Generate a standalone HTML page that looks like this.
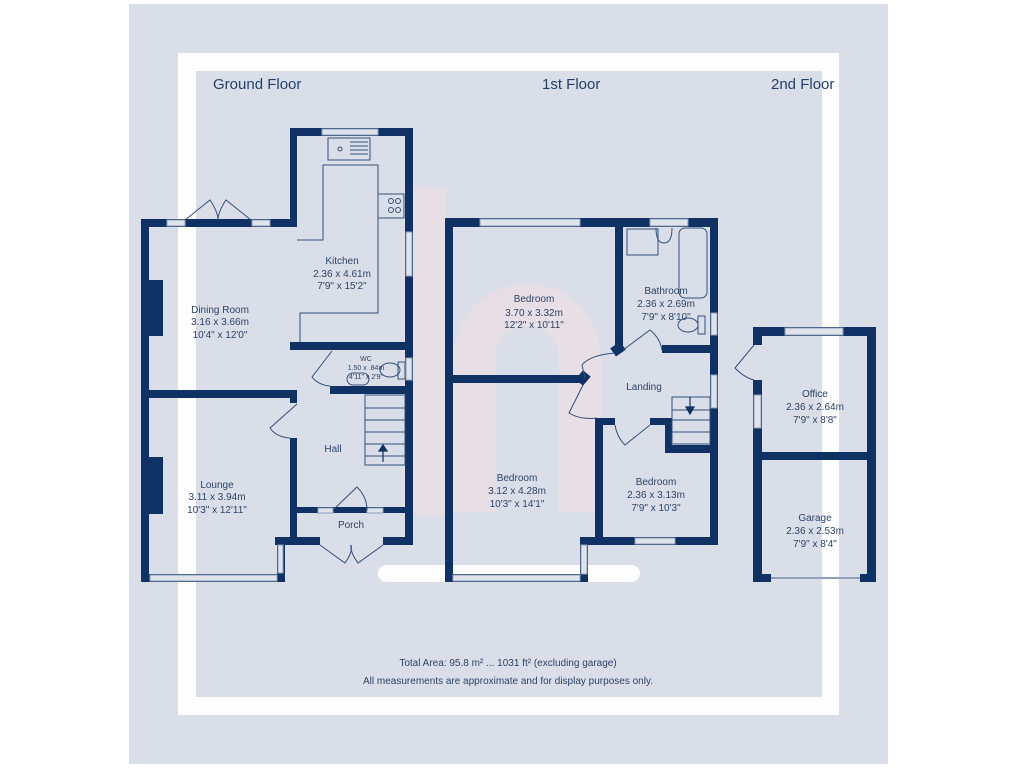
<!DOCTYPE html>
<html><head><meta charset="utf-8"><style>
html,body{margin:0;padding:0;background:#fff;}
body{width:1024px;height:768px;overflow:hidden;position:relative;font-family:"Liberation Sans",sans-serif;}
svg{position:absolute;left:0;top:0;}
</style></head><body>
<svg width="1024" height="768" viewBox="0 0 1024 768" xmlns="http://www.w3.org/2000/svg" font-family="Liberation Sans, sans-serif">
<rect x="129" y="4" width="759" height="760" fill="#dadee8"/>
<rect x="178" y="53" width="661" height="662" fill="#fdfdfe"/>
<rect x="196" y="71" width="626" height="626" fill="#dadee8"/>
<!-- pink logo -->
<g fill="none" stroke="#f8dde3" stroke-width="42" opacity="0.45">
<path d="M425 187 V515"/>
<path d="M474 512 V358 A53 53 0 0 1 580 358 V512"/>
</g>
<rect x="378" y="565" width="262" height="17" rx="8.5" fill="#fdfdfe"/>
<g fill="#22416b" font-size="15">
<text x="213" y="89">Ground Floor</text>
<text x="542" y="89">1st Floor</text>
<text x="771" y="89">2nd Floor</text>
</g>
<g fill="#0f3163">
<rect x="290" y="128" width="123" height="8"/>
<rect x="290" y="128" width="7" height="99"/>
<rect x="141" y="219" width="156" height="8"/>
<rect x="141" y="219" width="8" height="363"/>
<rect x="149" y="280" width="14" height="56"/>
<rect x="149" y="457" width="14" height="57"/>
<rect x="405" y="128" width="8" height="417"/>
<rect x="290" y="342" width="123" height="8"/>
<rect x="330" y="386" width="83" height="8"/>
<rect x="149" y="390" width="148" height="8"/>
<rect x="290" y="390" width="7" height="13"/>
<rect x="290" y="438" width="7" height="107"/>
<rect x="297" y="507" width="116" height="6"/>
<rect x="275" y="537" width="45" height="8"/>
<rect x="383" y="537" width="30" height="8"/>
<rect x="277" y="537" width="8" height="45"/>
<rect x="141" y="574" width="144" height="8"/>
<rect x="445" y="218" width="273" height="9"/>
<rect x="445" y="218" width="8" height="364"/>
<rect x="615" y="218" width="8" height="134"/>
<rect x="612" y="344" width="12" height="10" transform="rotate(-35 618 349)"/>
<rect x="710" y="218" width="8" height="327"/>
<rect x="662" y="345" width="56" height="8"/>
<rect x="453" y="375" width="132" height="8"/>
<rect x="578" y="372" width="10" height="12" transform="rotate(40 583 378)"/>
<rect x="595" y="418" width="8" height="127"/>
<rect x="595" y="418" width="20" height="7"/>
<rect x="650" y="418" width="22" height="7"/>
<rect x="665" y="418" width="7" height="34"/>
<rect x="665" y="445" width="45" height="8"/>
<rect x="580" y="537" width="138" height="8"/>
<rect x="580" y="537" width="8" height="45"/>
<rect x="445" y="574" width="143" height="8"/>
<rect x="753" y="327" width="123" height="9"/>
<rect x="867" y="327" width="9" height="255"/>
<rect x="753" y="327" width="9" height="18"/>
<rect x="753" y="380" width="9" height="202"/>
<rect x="753" y="452" width="123" height="8"/>
<rect x="753" y="574" width="18" height="8"/>
<rect x="860" y="574" width="16" height="8"/>
</g>
<g fill="#dfe3ec" stroke="#8ea0ba" stroke-width="1">
<rect x="322" y="129" width="56" height="6"/>
<rect x="167" y="220" width="18" height="6"/>
<rect x="252" y="220" width="18" height="6"/>
<rect x="406" y="232" width="6" height="44"/>
<rect x="406" y="358" width="6" height="22"/>
<rect x="318" y="508" width="15" height="5"/>
<rect x="367" y="508" width="16" height="5"/>
<rect x="150" y="575" width="127" height="6"/>
<rect x="278" y="545" width="5" height="28"/>
<rect x="480" y="219" width="100" height="7"/>
<rect x="650" y="219" width="38" height="7"/>
<rect x="711" y="313" width="6" height="22"/>
<rect x="711" y="375" width="6" height="33"/>
<rect x="635" y="538" width="40" height="6"/>
<rect x="453" y="575" width="127" height="6"/>
<rect x="581" y="545" width="6" height="29"/>
<rect x="785" y="328" width="58" height="7"/>
<rect x="754" y="395" width="7" height="33"/>
</g>
<line x1="771" y1="578" x2="860" y2="578" stroke="#8ea0ba" stroke-width="2"/>
<g fill="none" stroke="#33507a" stroke-width="1">
<path d="M297 240 H323 V165 H378 V313 H300 V342"/>
<rect x="328" y="138" width="42" height="22"/>
<circle cx="340" cy="149" r="2"/>
<path d="M350 142 H368 M350 146 H368 M350 150 H368 M350 154 H368"/>
<rect x="378" y="194" width="26" height="24"/>
<circle cx="391" cy="201" r="2.5"/><circle cx="398" cy="201" r="2.5"/><circle cx="391" cy="210" r="2.5"/><circle cx="398" cy="210" r="2.5"/>
<path d="M185 220 L210 200 Q218 212 218 220 M251 220 L226 200 Q218 212 218 220"/>
<path d="M332 351 L312 377 Q318 385 330 386"/>
<rect x="347" y="373" width="22" height="12" rx="6"/>
<ellipse cx="390" cy="370" rx="10" ry="7"/><rect x="398" y="362" width="7" height="17"/>
<path d="M297 404 L270 428 Q276 437 290 438"/>
<rect x="365" y="395" width="40" height="70"/>
<path d="M365 408 H405 M365 420 H405 M365 432 H405 M365 444 H405 M365 456 H405"/>
<path d="M333 510 L357 487 Q367 497 367 510"/>
<path d="M320 545 L345 563 Q353 552 351 545 M383 545 L358 563 Q350 552 351 545"/>
<rect x="627" y="229" width="31" height="26"/>
<path d="M656 228 Q656 243 664 243 Q672 243 672 228"/>
<rect x="679" y="228" width="28" height="70" rx="6"/>
<ellipse cx="688" cy="325" rx="10" ry="7"/><rect x="698" y="316" width="7" height="18"/>
<path d="M623 350 L650 330 Q660 338 662 350"/>
<path d="M585 378 L582 365 Q590 355 615 353"/>
<path d="M583 385 L569 413 Q580 420 597 418"/>
<path d="M650 425 L625 445 Q617 437 615 425"/>
<rect x="672" y="397" width="38" height="47"/>
<path d="M672 410 H710 M672 420 H710 M672 432 H710"/>
<path d="M754 345 L735 368 Q745 378 754 380"/>
</g>
<g stroke="#0f3163" fill="#0f3163" stroke-width="1.2">
<path d="M383 462 V447"/><path d="M379 451 L383 445 L387 451 Z"/>
<path d="M690 397 V411"/><path d="M686 407 L690 414 L694 407 Z"/>
</g>
<g fill="#2c4468" font-size="10" text-anchor="middle">
<text x="342" y="264">Kitchen</text><text x="342" y="277">2.36 x 4.61m</text><text x="342" y="289">7'9" x 15'2"</text>
<text x="220" y="313">Dining Room</text><text x="220" y="325">3.16 x 3.66m</text><text x="220" y="338">10'4" x 12'0"</text>
<text x="366" y="361" font-size="7">WC</text><text x="366" y="370" font-size="7">1.50 x .84m</text><text x="366" y="379" font-size="7">4'11" x 2'9"</text>
<text x="333" y="452">Hall</text>
<text x="217" y="488">Lounge</text><text x="217" y="500">3.11 x 3.94m</text><text x="217" y="513">10'3" x 12'11"</text>
<text x="351" y="528">Porch</text>
<text x="534" y="302">Bedroom</text><text x="534" y="316">3.70 x 3.32m</text><text x="534" y="328">12'2" x 10'11"</text>
<text x="666" y="294">Bathroom</text><text x="666" y="307">2.36 x 2.69m</text><text x="666" y="320">7'9" x 8'10"</text>
<text x="644" y="390">Landing</text>
<text x="517" y="481">Bedroom</text><text x="517" y="494">3.12 x 4.28m</text><text x="517" y="507">10'3" x 14'1"</text>
<text x="656" y="485">Bedroom</text><text x="656" y="498">2.36 x 3.13m</text><text x="656" y="511">7'9" x 10'3"</text>
<text x="815" y="397">Office</text><text x="815" y="410">2.36 x 2.64m</text><text x="815" y="423">7'9" x 8'8"</text>
<text x="815" y="521">Garage</text><text x="815" y="534">2.36 x 2.53m</text><text x="815" y="547">7'9" x 8'4"</text>
<text x="508" y="666">Total Area: 95.8 m² ... 1031 ft² (excluding garage)</text>
<text x="508" y="684">All measurements are approximate and for display purposes only.</text>
</g>
</svg>
</body></html>
